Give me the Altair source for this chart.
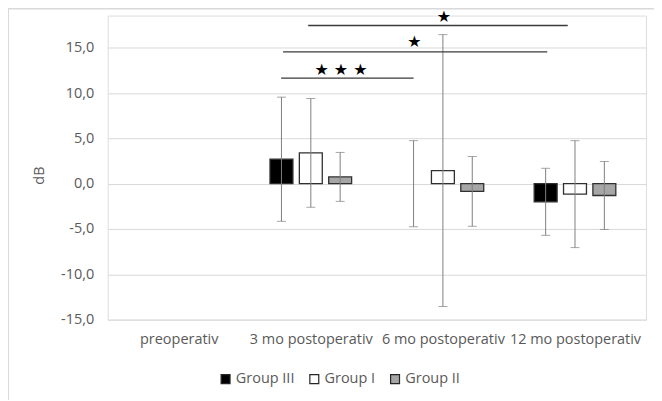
import altair as alt
import pandas as pd

categories = ["preoperativ", "3 mo postoperativ", "6 mo postoperativ", "12 mo postoperativ"]
groups = ["Group III", "Group I", "Group II"]
group_colors = ["#000000", "#ffffff", "#a6a6a6"]

# mean and SD per group, per category (preoperativ has no data)
cat_index = [1, 1, 1, 2, 2, 2, 3, 3, 3]
group_of = ["Group III", "Group I", "Group II"] * 3
means = [2.7, 3.4, 0.75, 0.0, 1.45, -0.85, -2.0, -1.15, -1.3]
sds = [6.85, 6.0, 2.7, 4.75, 15.0, 3.85, 3.7, 5.9, 3.75]

# significance brackets: start, end (category-index units), height (dB), label
br_start = [0.775, 0.79, 0.98]
br_end = [1.778, 2.79, 2.945]
br_y = [11.65, 14.55, 17.45]
star_x = [1.228, 1.785, 2.007]
star_y = [12.55, 15.6, 18.4]
star_txt = ["★ ★ ★", "★", "★"]

y_ticks = [-15, -10, -5, 0, 5, 10, 15]

offset = {"Group III": -0.2222, "Group I": 0.0, "Group II": 0.2222}
df = pd.DataFrame({"cat": cat_index, "group": group_of, "mean": means, "sd": sds})
df["x"] = df["cat"] + df["group"].map(offset)
df["lo"] = df["mean"] - df["sd"]
df["hi"] = df["mean"] + df["sd"]

br = pd.DataFrame({"x": br_start, "x2": br_end, "y": br_y})
st = pd.DataFrame({"x": star_x, "y": star_y, "t": star_txt})

FONT = "Open Sans"
TXT = "#595959"
FS = 14.5

xscale = alt.Scale(domain=[-0.5, 3.5], nice=False, zero=False)
yscale = alt.Scale(domain=[-15, 18.55], nice=False, zero=False)

label_expr = "[" + ",".join("'" + c + "'" for c in categories) + "][datum.value]"

base = alt.Chart(df)

bars = base.transform_filter("datum.mean != 0").mark_bar(
    size=23, stroke="#303030", strokeWidth=1.3
).encode(
    x=alt.X("x:Q", scale=xscale, title=None,
            axis=alt.Axis(values=[0, 1, 2, 3], labelExpr=label_expr, grid=False,
                          domain=False, ticks=False, labelPadding=13,
                          labelFont=FONT, labelFontSize=FS, labelColor=TXT)),
    y=alt.Y("mean:Q", scale=yscale, title="dB",
            axis=alt.Axis(values=y_ticks,
                          labelExpr="replace(replace(format(datum.value, '.1f'), '.', ','), '\u2212', '-')",
                          grid=True, gridColor="#d9d9d9", domain=False, ticks=False,
                          labelPadding=14, labelFont=FONT, labelFontSize=FS, labelColor=TXT,
                          titleFont=FONT, titleFontSize=FS, titleColor=TXT, titleFontWeight="normal",
                          titleX=-61, titleY=160)),
    color=alt.Color("group:N", scale=alt.Scale(domain=groups, range=group_colors),
                    sort=groups,
                    legend=alt.Legend(title=None, orient="none", direction="horizontal",
                                      legendX=111, legendY=357, symbolType="square",
                                      symbolSize=80, symbolStrokeColor="#262626",
                                      symbolStrokeWidth=1.2, labelFont=FONT, labelFontSize=FS,
                                      labelColor=TXT, columnPadding=12, labelOffset=3)),
)

err = base.mark_rule(color="#808080", strokeWidth=1).encode(
    x="x:Q", y="lo:Q", y2="hi:Q"
)
cap_lo = base.mark_tick(color="#808080", thickness=1, size=9, orient="horizontal").encode(
    x="x:Q", y="lo:Q"
)
cap_hi = base.mark_tick(color="#808080", thickness=1, size=9, orient="horizontal").encode(
    x="x:Q", y="hi:Q"
)

lines = alt.Chart(br).mark_rule(color="#3a3a3a", strokeWidth=1.4).encode(
    x="x:Q", x2="x2:Q", y="y:Q"
)
stars = alt.Chart(st).mark_text(font="DejaVu Sans", fontSize=16, color="#000000",
                                baseline="middle").encode(
    x="x:Q", y="y:Q", text="t:N"
)

frame = alt.Chart(pd.DataFrame({"k": [0]})).mark_rect(
    fill=None, stroke="#d9d9d9", strokeWidth=2, clip=False
).encode(x=alt.value(-100), x2=alt.value(700), y=alt.value(-7), y2=alt.value(500))

chart = alt.layer(frame, bars, err, cap_lo, cap_hi, lines, stars).properties(
    width=540, height=305,
    autosize=alt.AutoSizeParams(type="none"),
    padding={"left": 100, "top": 7, "right": 8, "bottom": 80},
).configure_view(stroke=None).configure(background="#ffffff")

chart.save("out.html", embed_options={"renderer": "svg", "actions": False})
